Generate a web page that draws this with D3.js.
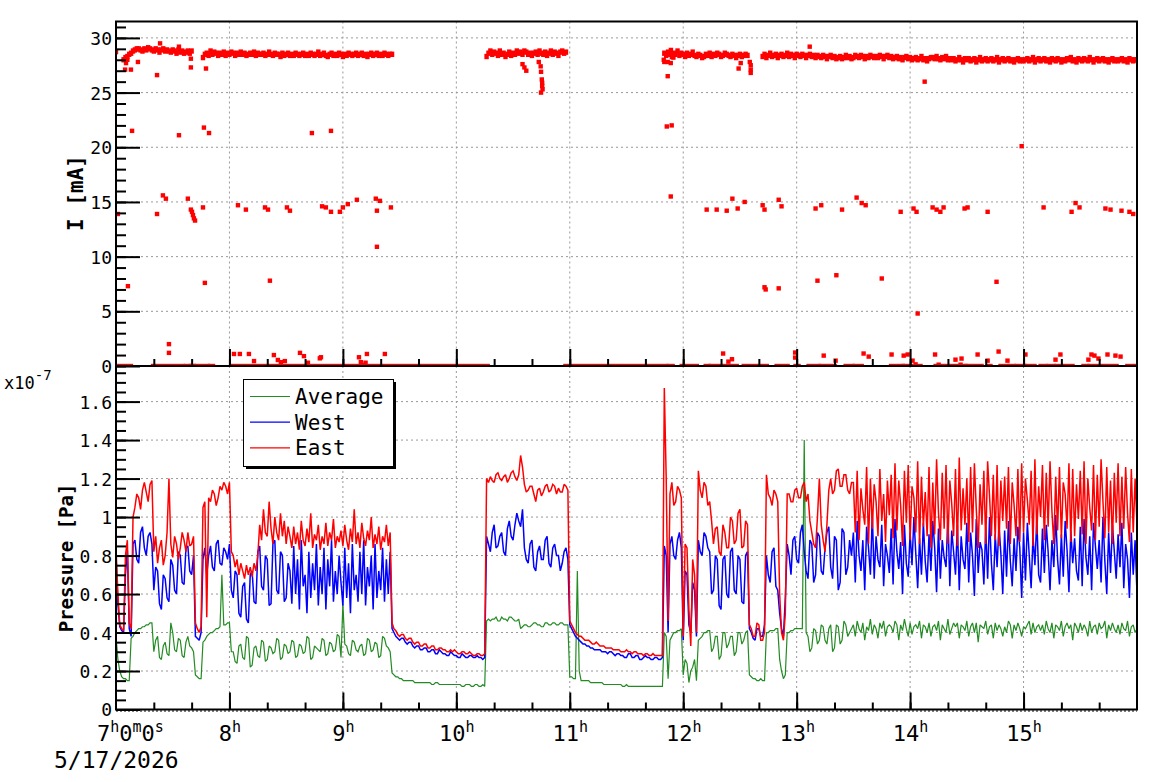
<!DOCTYPE html>
<html><head><meta charset="utf-8">
<script src="https://cdn.jsdelivr.net/npm/d3@7"></script>
<style>
body{margin:0;background:#fff}
svg{display:block}
text{font-family:"DejaVu Sans Mono",monospace;fill:#000}
</style></head><body>
<svg id="c" width="1158" height="782"></svg>
<script>
// ---------- DATA (time in minutes after 7:00, 5/17/2026) ----------
const pStep = 1;   // pressure samples every minute, t = 0..540
// pressures in units of 1e-9 Pa (value/100 on the x1e-7 axis)
const east = [
 84,60,44,42,41,80,88,45,42,100,105,112,110,104,114,118,113,108,117,119,
 82,90,76,84,88,75,80,92,120,86,79,90,86,78,84,92,88,82,92,85,86,90,
 45,42,40,43,105,108,48,110,108,114,112,106,110,116,114,118,116,112,118,82,
 80,74,78,70,76,72,68,75,70,74,69,76,72,80,96,88,104,92,90,108,94,86,100,92,88,102,90,98,86,95,
 90,84,95,86,92,83,98,88,85,94,87,102,84,91,88,96,83,90,86,97,85,92,88,99,84,90,87,93,85,96,
 88,83,94,87,104,86,92,84,97,89,85,93,88,100,84,91,86,95,83,90,87,96,85,92,
 45,42,41,39,38,39,39,37,36,37,37,35,34,35,35,33,33,34,34,32,32,33,33,31,31,32,32,31,31,30,
 30,31,30,31,30,29,29,30,30,29,29,30,29,28,28,29,29,28,28,29,
 120,118,121,119,118,122,123,120,119,121,122,118,120,123,124,121,119,122,132,126,
 117,113,114,116,116,112,108,114,115,111,113,116,117,113,114,117,116,112,115,113,113,117,116,114,
 46,44,42,40,39,38,38,37,36,36,36,35,34,34,35,34,33,33,33,32,32,32,32,31,31,31,31,30,30,30,
 31,30,30,29,30,30,29,29,29,28,29,29,28,28,29,28,28,28,28,28,
 167,120,46,112,118,106,108,116,114,110,38,86,84,52,33,78,70,40,124,114,
 110,118,116,106,108,98,86,94,95,82,80,96,92,84,84,100,98,86,88,102,104,84,85,98,96,44,
 42,38,38,45,44,36,36,40,122,112,110,106,114,112,108,60,40,36,50,112,
 112,108,108,114,115,110,110,116,118,108,112,98,92,86,84,100,120,96,88,82,
 96,114,120,112,114,124,125,116,116,122,122,114,112,118,
 118,92,124,88,115,104,96,126,86,120,94,117,108,90,125,98,112,87,119,101,
 122,89,128,93,119,106,85,124,97,127,88,116,110,92,129,86,121,95,113,90,
 126,84,118,91,130,102,88,123,94,127,86,119,107,90,125,85,131,93,115,96,
 120,87,126,92,128,104,84,117,96,124,86,129,111,90,122,88,127,85,119,98,
 121,94,126,86,118,106,90,125,87,128,92,120,109,96,124,85,130,91,116,100,
 127,88,123,95,129,103,86,121,93,126,89,118,112,94,128,87,125,90,117,99,
 124,91,129,86,120,105,93,127,88,122,95,130,108,89,126,92,119,86,123,97,
 128,90,121,94,126,102,87,125,92,120,96
];
const west = [
 80,55,43,41,40,70,83,42,38,86,88,78,76,92,95,84,80,90,92,86,
 62,74,72,55,52,70,68,58,56,78,75,62,60,82,80,66,65,84,85,72,70,80,
 38,37,36,40,78,84,70,80,85,74,72,86,88,76,75,84,82,78,86,62,
 58,72,70,50,48,64,66,47,45,70,72,56,55,82,85,64,62,80,78,54,55,86,88,62,60,82,80,56,58,76,
 72,55,85,60,78,52,88,64,70,50,82,58,76,62,86,54,74,60,84,52,78,64,88,56,72,60,80,66,54,84,
 58,76,50,86,62,70,56,82,60,88,54,74,64,80,52,86,58,72,62,84,56,78,60,82,
 42,40,38,37,36,37,37,35,34,35,35,33,32,33,33,31,31,32,32,30,30,31,31,29,29,31,30,29,29,28,
 28,30,29,28,28,27,27,29,28,27,27,28,28,27,27,28,27,27,26,27,
 90,86,82,92,96,84,85,90,92,82,80,94,98,90,88,96,102,98,95,104,
 84,78,76,86,88,74,72,82,85,78,78,88,90,76,74,84,86,80,80,72,76,82,84,78,
 44,42,40,38,37,36,35,34,34,33,33,32,32,31,31,31,31,30,30,30,29,30,30,29,28,29,29,28,28,27,
 27,29,29,27,27,28,28,26,26,27,28,27,27,26,26,27,27,26,26,27,
 85,80,40,86,90,80,78,88,92,84,36,72,70,44,40,66,62,38,88,82,
 80,92,90,84,82,60,62,80,78,54,52,78,80,60,58,82,84,62,60,80,78,56,55,80,82,42,
 40,37,36,42,42,38,38,44,80,70,66,82,84,64,62,50,42,38,58,86,
 80,70,88,90,78,76,92,96,82,72,68,88,86,66,70,92,90,72,70,84,
 92,95,74,68,90,88,62,66,94,92,70,74,88,80,
 92,66,98,80,72,88,62,95,84,70,102,68,90,78,74,96,64,86,80,71,
 94,65,99,82,73,87,60,96,76,69,92,75,100,81,63,89,70,97,77,66,
 91,72,98,84,61,94,68,88,79,74,101,64,93,82,70,96,62,90,78,73,
 97,66,92,80,59,99,71,87,83,65,95,68,100,76,62,91,74,96,81,60,
 93,69,98,77,64,89,72,95,84,58,92,67,97,80,63,90,75,99,70,66,
 94,71,96,82,62,88,74,101,78,65,91,69,98,83,61,93,76,89,72,67,
 95,64,99,79,70,90,62,97,85,73,88,66,100,77,60,92,71,96,82,68,
 91,74,97,63,86,78,58,92,70,88,60
];
const average = [
 38,26,20,17,16,16,15,15,37,38,40,41,42,42,43,43,44,44,45,45,
 30,36,38,27,26,33,35,29,28,45,40,31,30,37,36,28,27,35,38,33,32,30,
 18,17,16,16,35,36,38,39,40,40,41,42,42,43,70,44,44,45,45,30,
 30,25,24,33,34,27,26,38,37,22,23,32,33,28,27,36,35,25,26,33,32,29,30,37,36,26,27,34,33,29,
 30,36,35,27,28,34,33,29,30,38,37,26,27,33,32,31,30,37,36,28,29,35,34,30,31,39,38,27,55,34,
 33,29,28,36,35,31,30,33,34,28,29,37,36,30,31,35,34,27,28,38,37,33,32,30,
 19,18,17,17,16,16,15,15,15,15,15,15,14,14,14,14,14,14,14,14,14,13,13,14,14,13,13,13,13,13,
 13,13,13,13,13,13,13,12,12,13,13,13,12,12,13,13,12,12,13,12,
 46,47,46,47,47,48,46,46,48,47,47,46,48,48,47,46,46,47,42,43,
 44,44,43,43,44,45,45,44,44,43,43,45,45,44,44,45,45,44,44,45,45,44,44,44,
 17,17,16,16,72,20,15,15,15,15,15,14,14,14,14,14,14,14,13,13,13,13,13,13,13,13,13,13,12,12,
 13,12,12,12,12,12,12,12,12,12,12,12,12,12,12,12,12,12,12,12,
 40,38,16,36,38,40,40,41,41,42,18,26,24,14,20,22,26,15,36,37,
 38,40,40,41,41,30,32,38,38,26,28,40,40,32,34,38,38,28,30,40,40,34,36,40,41,18,
 17,16,16,15,15,16,15,15,40,40,41,41,41,42,42,26,20,16,18,40,
 40,41,41,42,42,42,42,42,140,40,38,30,32,42,41,34,36,44,43,36,
 34,42,44,30,32,44,43,34,36,46,44,38,40,42,
 44,38,46,42,40,45,36,43,41,47,39,44,42,37,45,42,46,38,43,44,
 43,40,46,44,36,44,41,47,42,38,45,39,43,44,42,46,37,44,43,40,
 45,38,43,44,41,46,36,44,42,40,47,39,42,45,43,45,37,44,43,41,
 46,38,43,45,40,45,35,44,43,42,46,39,43,44,37,45,41,44,42,38,
 43,40,46,44,37,44,41,45,42,38,43,42,44,46,39,45,40,43,44,41,
 44,39,46,42,40,45,37,44,43,41,46,38,43,45,42,44,36,45,43,40,
 45,41,44,42,38,46,40,43,44,39,45,42,43,46,37,44,41,45,42,40,
 44,39,45,42,41,46,38,43,44,40,42
];

// beam current band, tenths of mA, one reading per minute from each start time
const bandStarts = [4, 46, 196, 290, 342];
const band1 = [280,282,283,285,286,288,289,290,290,289,288,290,289,291,290,289,288,290,289,287,
 289,290,288,289,288,287,289,288,286,289,287,288,286,287,288,286,288];
const band2 = [282,285,286,284,288,285,287,286,284,286,285,287,284,286,285,287,286,284,286,285,
 287,285,286,284,285,286,285,287,284,286,285,285,286,284,285,287,285,284,286,285,
 285,283,286,284,285,286,284,285,284,286,285,284,285,286,284,285,284,286,285,284,
 285,287,284,285,286,284,283,285,286,284,285,284,286,285,283,285,284,286,285,284,
 285,286,284,285,286,284,285,283,285,286,284,285,286,284,285,284,286,285,284,285,285];
const band3 = [283,286,288,285,287,286,284,288,285,286,283,285,287,284,286,285,288,286,287,285,
 288,287,285,286,284,286,287,285,288,286,285,287,284,286,288,285,287,286,284,287,288,286,287];
const band4 = [286,284,287,285,283,286,285,288,284,286,285,283,286,284,285,287,284,283,285,284,
 282,283,285,284,286,283,285,284,286,285,283,284,286,285,284,283,285,284,282,284,285,283,284,285,284];
const band5 = [283,285,282,284,286,283,284,285,282,284,285,283,284,286,283,285,284,282,285,284,
 283,285,284,282,284,285,283,284,282,284,283,282,284,283,281,283,284,282,283,281,
 282,283,281,282,284,282,283,281,282,284,283,282,284,283,281,283,282,284,283,282,
 283,282,284,283,281,283,284,282,283,281,282,283,281,282,280,282,283,281,282,280,
 281,282,280,281,283,280,281,279,281,282,282,281,283,281,280,282,281,283,280,281,
 280,281,279,280,282,280,278,281,280,281,279,280,281,278,280,282,279,280,281,279,
 280,281,279,280,282,278,280,281,279,280,281,279,280,278,280,281,279,280,279,280,
 281,279,280,282,278,280,281,279,280,281,279,280,278,281,280,279,281,280,278,280,
 279,281,280,282,279,280,278,281,280,279,281,280,279,282,280,278,280,281,279,280,
 281,279,280,278,280,281,279,280,279,280,281,279,280,278,281,280,279,280,280];

// isolated current readings [minute, mA]
const strays = [
 [0,28.7],[1,13.9],[4.8,27.1],[5.3,27.7],[6,28.0],[7.9,27.1],[11.6,27.8],[6.3,7.3],[8.5,21.5],
 [21.7,26.6],[23.3,29.5],[33.3,29.2],[33.3,21.1],[39.6,27.3],[39.6,28.1],
 [21.7,13.9],[24.8,15.6],[26.4,15.3],[28,2.0],[28,1.2],
 [38,15.3],[39.6,14.3],[40.7,13.8],[41.2,13.5],[41.8,13.3],[40.2,14.1],[46,14.5],
 [46.5,21.8],[49.2,21.3],[47,7.6],[47.6,27.2],
 [64.5,14.7],[68.7,14.3],[78.8,14.5],[80.4,14.3],[90.4,14.5],[92,14.2],[109,14.6],[111,14.5],
 [113.7,14.1],[118.4,14.1],[120,14.5],[122.6,14.8],[127.4,15.2],[137.4,15.3],[139.6,15.1],[138,14.2],[145.4,14.5],
 [81.4,7.8],[103.6,21.3],[113.7,21.5],[138,10.9],
 [62.4,1.1],[65.5,1.1],[70.3,1.1],[73,0.45],[83.5,1.0],[85.6,0.55],[87.2,0.35],[89.3,0.45],[97.3,1.2],
 [99.4,0.9],[101.5,0.3],[107.8,0.7],[108.4,0.8],[128.5,0.8],[129.5,0.35],[130.6,0.1],[132,0.3],[132.7,1.1],[142.2,1.1],
 [215,27.6],[216,27.3],[217,27.0],[223.6,27.8],[224.6,27.4],[224.8,26.9],[225.2,26.2],[225.4,25.9],[225.4,25.6],[225.6,25.3],[224.8,25.0],
 [289.7,28.0],[290,27.8],[291.8,26.5],[291.8,27.8],[293.4,27.7],[294.8,28.2],[293.5,28.9],[291.3,21.9],[293.9,22.0],[293.4,15.5],
 [329.3,27.2],[330.4,27.7],[335.2,27.8],[335.7,27.5],[335.7,27.1],[335.7,26.8],
 [312.4,14.3],[317.7,14.3],[323,14.2],[326,15.3],[328.8,14.4],[332.5,15.0],[342,14.7],[343,14.3],[350.5,15.2],[352,14.6],
 [370,14.4],[373,14.7],[384,14.3],[391.7,15.4],[394.4,14.9],[396.5,14.7],[415,14.1],[421.8,14.4],[423.4,14.1],[431.9,14.5],
 [434,14.3],[436,14.1],[437.7,14.5],[448.8,14.4],[450.4,14.5],[461,14.1],[490.6,14.5],[505.4,14.1],[507.5,14.9],[509.6,14.5],
 [523.3,14.4],[526,14.3],[531.8,14.2],[536,14.1],[538,13.9],
 [343,7.2],[343.6,7.0],[350.5,7.1],[371,7.8],[381,8.3],[405,8.0],[465.7,7.7],[424,4.8],[427.7,26.0],[479,20.1],[366.9,29.2],
 [321.1,1.14],[325.8,0.62],[323.9,0.4],[359.2,1.23],[359.2,0.77],[374.3,0.95],[380.6,0.49],[395.4,1.14],[398.1,0.86],
 [410.2,1.05],[416.6,0.95],[418.7,1.05],[421.3,0.49],[422.9,0.15],[433.2,1.05],[435.1,0.12],[444,0.58],[447.2,0.68],
 [446.7,0.12],[455.7,1.05],[461,0.49],[466.8,1.32],[471.5,0.49],[481,1.05],[496.9,0.58],[499.5,1.05],[514.3,0.58],
 [515.9,1.05],[517.5,0.95],[519.6,0.68],[524.4,1.05],[528.6,0.95],[531.3,0.86]
];
// runs of zero-current readings [from minute, to minute]
const zeroRuns = [[0,7.9],[19.6,35.4],[37,38.6],[39.6,41.2],[42.3,48.6],[49.7,51.3],[61.3,196.6],
 [237.7,291.1],[292.3,294.4],[299.2,307.2],[311.9,313.5],[314.5,328.3],[332,344.2],[349.4,355.2],[359.4,361],
 [366.3,371.6],[372.7,375.8],[377.9,380.1],[385.9,389.6],[390.7,394.4],[409.9,412.6],[414.7,416.2],[416.6,420.8],
 [423.4,425.5],[433.5,437.2],[439.3,449.3],[449.9,452],[454.1,457.8],[461,462.5],[467.8,471.5],[472.6,474.7],
 [476.3,480.5],[482.1,485.8],[489,491.6],[493.2,495.9],[497.4,505.9],[511.7,513.8],[514.9,522.3],[524.4,529.2],
 [534.9,537.1],[539.1,540]];

// axis ticks / labels
const iTicks = [0,5,10,15,20,25,30];
const iLabels = ["0","5","10","15","20","25","30"];
const pTicks = [0,0.2,0.4,0.6,0.8,1.0,1.2,1.4,1.6];
const pLabels = ["0","0.2","0.4","0.6","0.8","1","1.2","1.4","1.6"];
const hourTicks = [60,120,180,240,300,360,420,480];
const hourLabels = ["8","9","10","11","12","13","14","15"];
const seriesNames = ["Average","West","East"];
const seriesColors = ["#228b22","#0000ff","#ff0000"];
const seriesWidths = [1.2,1.5,1.5];

// ---------- CHART ----------
[east, west, average].forEach((a,k)=>{ if(a.length!==541) throw new Error("series "+k+" length "+a.length); });

const L=116, R=1137, T1=21.5, B1=366, B2=709.5;
const svg = d3.select("#c");
const x = d3.scaleLinear().domain([0,540]).range([L,R]);
const yI = d3.scaleLinear().domain([0,31.5]).range([B1,T1]);
const yP = d3.scaleLinear().domain([0,1.785]).range([B2,B1]);

const defs = svg.append("defs");
defs.append("clipPath").attr("id","clipTop").append("rect").attr("x",L).attr("y",T1).attr("width",R-L).attr("height",B1-T1);
defs.append("clipPath").attr("id","clipBot").append("rect").attr("x",L).attr("y",B1).attr("width",R-L).attr("height",B2-B1);

function grid(y0,y1,scaleY,yt){
  const g = svg.append("g").attr("stroke","#999").attr("stroke-width",1).attr("stroke-dasharray","2,3");
  hourTicks.forEach(t=>g.append("line").attr("x1",x(t)).attr("x2",x(t)).attr("y1",y0).attr("y2",y1));
  yt.filter(v=>v>0).forEach(v=>g.append("line").attr("x1",L).attr("x2",R).attr("y1",scaleY(v)).attr("y2",scaleY(v)));
}
grid(T1,B1,yI,iTicks);
grid(B1,B2,yP,pTicks);

// ---- top panel marks
const topG = svg.append("g").attr("clip-path","url(#clipTop)");
const bandPts = [];
[band1,band2,band3,band4,band5].forEach((b,k)=>b.forEach((v,i)=>bandPts.push([bandStarts[k]+i, v/10])));
const ms = 4.4;
topG.selectAll("rect.z").data(zeroRuns).join("rect")
  .attr("x",d=>x(d[0])-ms/2).attr("width",d=>x(d[1])-x(d[0])+ms)
  .attr("y",yI(0)-ms/2).attr("height",ms).attr("fill","#ff0000");
topG.selectAll("rect.b").data(bandPts).join("rect")
  .attr("x",d=>x(d[0])-ms/2).attr("y",d=>yI(d[1])-ms/2-0.5).attr("width",ms).attr("height",ms+1).attr("fill","#ff0000");
topG.selectAll("rect.p").data(strays).join("rect")
  .attr("x",d=>x(d[0])-ms/2).attr("y",d=>yI(d[1])-ms/2).attr("width",ms).attr("height",ms).attr("fill","#ff0000");

// ---- bottom panel lines
const botG = svg.append("g").attr("clip-path","url(#clipBot)");
const line = d3.line().x((d,i)=>x(i*pStep)).y(d=>yP(d/100));
[average, west, east].forEach((s,k)=>{
  botG.append("path").attr("d",line(s)).attr("fill","none").attr("stroke",seriesColors[k])
    .attr("stroke-width",seriesWidths[k]).attr("stroke-linejoin","miter").attr("stroke-miterlimit",2);
});

// ---- frames
svg.append("rect").attr("x",L).attr("y",T1).attr("width",R-L).attr("height",B1-T1).attr("fill","none").attr("stroke","#000").attr("stroke-width",2);
svg.append("rect").attr("x",L).attr("y",B1).attr("width",R-L).attr("height",B2-B1).attr("fill","none").attr("stroke","#000").attr("stroke-width",2);
svg.append("line").attr("x1",L).attr("x2",R).attr("y1",B2+1.5).attr("y2",B2+1.5).attr("stroke","#000").attr("stroke-width",1).attr("stroke-dasharray","2,2");

// ---- axes
function styleAxis(g){ g.select(".domain").remove(); g.selectAll("line").attr("stroke","#000").attr("stroke-width",2); }
function yAxis(scale, major, labels, minorStep, maxV){
  const minor = d3.range(0, maxV, minorStep);
  svg.append("g").attr("transform",`translate(${L},0)`)
    .call(d3.axisLeft(scale).tickValues(minor).tickSize(-10).tickFormat("")).call(styleAxis);
  const g = svg.append("g").attr("transform",`translate(${L},0)`)
    .call(d3.axisLeft(scale).tickValues(major).tickSize(-24).tickPadding(4).tickFormat((d,i)=>labels[i]))
    .call(styleAxis);
  g.selectAll("text").attr("font-family","DejaVu Sans Mono").attr("font-size",18).attr("fill","#000").attr("dy","0.36em");
}
yAxis(yI, iTicks, iLabels, 1, 31.6);
yAxis(yP, pTicks, pLabels, 0.05, 1.78);

function xAxis(y0, withLabels){
  svg.append("g").attr("transform",`translate(0,${y0})`)
    .call(d3.axisBottom(x).tickValues(d3.range(20,540,20)).tickSize(-7).tickFormat("")).call(styleAxis);
  const g = svg.append("g").attr("transform",`translate(0,${y0})`)
    .call(d3.axisBottom(x).tickValues(hourTicks).tickSize(-17).tickFormat("")).call(styleAxis);
  if(withLabels){
    g.selectAll(".tick").each(function(d,i){
      const t = d3.select(this).append("text").attr("y",31).attr("text-anchor","middle")
        .attr("font-family","DejaVu Sans Mono").attr("fill","#000");
      t.append("tspan").attr("font-size",22).text(hourLabels[i]);
      t.append("tspan").attr("font-size",15).attr("dy",-9).text("h");
    });
  }
}
xAxis(B1,false);
xAxis(B2,true);

// offset label 7h0m0s and date
const off = svg.append("text").attr("x",97).attr("y",741).attr("font-family","DejaVu Sans Mono");
[["7","h"],["0","m"],["0","s"]].forEach(p=>{
  off.append("tspan").attr("font-size",22).attr("dy",9).text(p[0]);
  off.append("tspan").attr("font-size",15).attr("dy",-9).text(p[1]);
});
off.select("tspan").attr("dy",0);
svg.append("text").attr("x",54).attr("y",768).attr("font-size",23).text("5/17/2026");

// exponent label
const ex = svg.append("text").attr("x",4).attr("y",389).attr("font-size",17);
ex.append("tspan").text("x10");
ex.append("tspan").attr("font-size",14).attr("dy",-9).text("-7");

// axis titles
svg.append("text").attr("transform","translate(83,193) rotate(-90)").attr("text-anchor","middle")
  .attr("font-size",21).attr("font-weight","bold").text("I [mA]");
svg.append("text").attr("transform","translate(73,558) rotate(-90)").attr("text-anchor","middle")
  .attr("font-size",19).attr("font-weight","bold").text("Pressure [Pa]");

// legend
const lg = svg.append("g");
lg.append("rect").attr("x",246).attr("y",382).attr("width",150).attr("height",87).attr("fill","#000");
lg.append("rect").attr("x",243.5).attr("y",379.5).attr("width",150).attr("height",87).attr("fill","#fff").attr("stroke","#000").attr("stroke-width",1);
seriesNames.forEach((n,i)=>{
  const yy = 396.5 + i*25.7;
  lg.append("line").attr("x1",250).attr("x2",290).attr("y1",yy).attr("y2",yy).attr("stroke",seriesColors[i]).attr("stroke-width",1.2);
  lg.append("text").attr("x",295).attr("y",yy+7.5).attr("font-size",21).text(n);
});
</script></body></html>
